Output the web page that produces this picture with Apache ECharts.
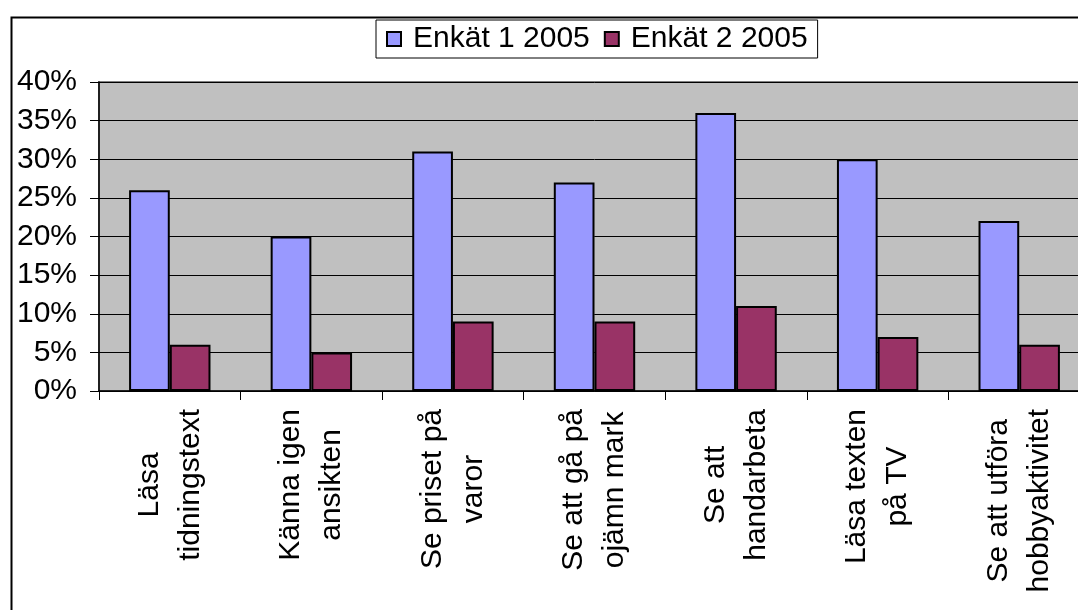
<!DOCTYPE html>
<html>
<head>
<meta charset="utf-8">
<script src="https://cdn.jsdelivr.net/npm/echarts@6/dist/echarts.min.js"></script>
<style>
html,body{margin:0;padding:0;background:#fff;overflow:hidden;width:1078px;height:610px;}
#c{width:1110px;height:640px;}
</style>
</head>
<body>
<div id="c"></div>
<script>
var categories = ["Läsa\ntidningstext", "Känna igen\nansikten", "Se priset på\nvaror", "Se att gå på\nojämn mark", "Se att\nhandarbeta", "Läsa texten\npå TV", "Se att utföra\nhobbyaktivitet"];
var enkat1 = [0.26, 0.20, 0.31, 0.27, 0.36, 0.30, 0.22];
var enkat2 = [0.06, 0.05, 0.09, 0.09, 0.11, 0.07, 0.06];
var seriesNames = ["Enkät 1 2005", "Enkät 2 2005"];

var FONT = '"Liberation Sans", Arial, sans-serif';
var chart = echarts.init(document.getElementById('c'), null, {renderer: 'canvas'});
chart.setOption({
  animation: false,
  backgroundColor: '#ffffff',
  textStyle: {fontFamily: FONT, color: '#000'},
  graphic: [{
    type: 'rect', left: 9, top: 15, z: 100, silent: true,
    shape: {x: 0, y: 0, width: 1200, height: 700},
    style: {fill: 'none', stroke: '#000', lineWidth: 2}
  }],
  legend: {
    left: 376, top: 20,
    data: seriesNames,
    backgroundColor: '#fff',
    borderColor: '#000', borderWidth: 1, borderRadius: 0,
    padding: [4, 10, 4, 10],
    itemWidth: 14, itemHeight: 14, itemGap: 14,
    icon: 'rect',
    itemStyle: {borderColor: '#000', borderWidth: 2},
    textStyle: {fontFamily: FONT, fontSize: 30, color: '#000', padding: [0, 0, 0, 7]}
  },
  grid: {
    left: 99, top: 82, width: 991, height: 309,
    show: true, backgroundColor: '#C0C0C0', borderColor: '#808080', borderWidth: 2,
    containLabel: false
  },
  xAxis: {
    type: 'category',
    data: categories,
    axisLine: {show: true, lineStyle: {color: '#000', width: 1.5}},
    axisTick: {show: true, length: 9, interval: 0, alignWithLabel: false, lineStyle: {color: '#000', width: 1}},
    axisLabel: {
      rotate: 90, interval: 0, margin: 18,
      fontFamily: FONT, fontSize: 30, color: '#000',
      formatter: function (v) {
        return v.split('\n').map(function (s) { return '{c|' + s + '}'; }).join('\n');
      },
      rich: {c: {align: 'center', fontFamily: FONT, fontSize: 30, color: '#000', lineHeight: 41}}
    },
    splitLine: {show: false}
  },
  yAxis: {
    type: 'value',
    min: 0, max: 0.4, interval: 0.05,
    axisLine: {show: true, lineStyle: {color: '#000', width: 1.5}},
    axisTick: {show: true, length: 9, lineStyle: {color: '#000', width: 1}},
    axisLabel: {
      margin: 22, fontFamily: FONT, fontSize: 30, color: '#000',
      formatter: function (v) { return Math.round(v * 100) + '%'; }
    },
    splitLine: {show: true, lineStyle: {color: '#000', width: 1}}
  },
  series: [
    {
      name: seriesNames[0], type: 'bar', data: enkat1,
      barGap: '0%', barCategoryGap: '42.5%',
      itemStyle: {color: '#9999FF', borderColor: '#000', borderWidth: 2}
    },
    {
      name: seriesNames[1], type: 'bar', data: enkat2,
      barGap: '0%', barCategoryGap: '42.5%',
      itemStyle: {color: '#993366', borderColor: '#000', borderWidth: 2}
    }
  ]
});
</script>
</body>
</html>
